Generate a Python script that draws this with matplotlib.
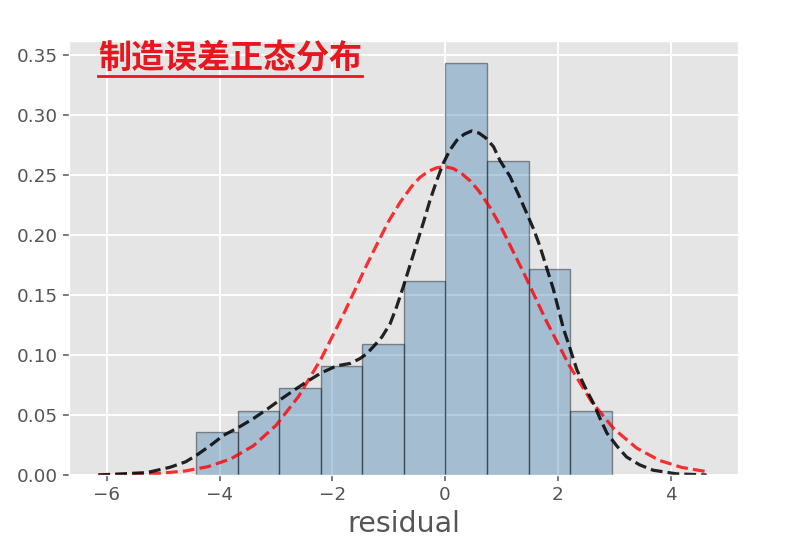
import numpy as np
import matplotlib
matplotlib.use('Agg')
import matplotlib.pyplot as plt

# Histogram of residuals (density)
bin_edges = [-4.415, -3.678, -2.941, -2.204, -1.467, -0.730, 0.007, 0.744, 1.481, 2.218, 2.955]
bin_density = [0.0356, 0.0536, 0.0722, 0.0905, 0.109, 0.162, 0.3436, 0.262, 0.172, 0.0536]

# Kernel density estimate (black dashed)
kde_x = [-6.15, -5.8, -5.29, -4.88, -4.6, -4.4, -4.15, -3.93, -3.65, -3.4, -3.15, -2.93,
         -2.7, -2.45, -2.2, -1.92, -1.68, -1.51, -1.39, -1.27, -1.12, -0.975, -0.86, -0.74,
         -0.62, -0.5, -0.38, -0.266, -0.15, -0.03, 0.09, 0.21, 0.34, 0.47, 0.6, 0.72,
         0.86, 0.975, 1.15, 1.3, 1.45, 1.57, 1.68, 1.8, 1.92, 2.1, 2.22, 2.34, 2.48,
         2.63, 2.75, 2.87, 3.05, 3.22, 3.45, 3.69, 4.1, 4.64]
kde_y = [0.0, 0.0008, 0.002, 0.0064, 0.011, 0.0167, 0.025, 0.033, 0.040, 0.047, 0.055, 0.0625,
         0.070, 0.0778, 0.085, 0.091, 0.093, 0.097, 0.101, 0.107, 0.115, 0.126, 0.140, 0.157,
         0.175, 0.193, 0.211, 0.229, 0.245, 0.260, 0.271, 0.279, 0.284, 0.2867, 0.285, 0.281,
         0.2736, 0.262, 0.249, 0.234, 0.218, 0.205, 0.191, 0.173, 0.155, 0.122, 0.105, 0.0875, 0.0735,
         0.060, 0.047, 0.035, 0.024, 0.015, 0.0085, 0.004, 0.001, 0.0]

# Fitted normal curve (red dashed)
norm_x = [-6.15, -5.6, -5.1, -4.6, -4.2, -3.8, -3.4, -3.0, -2.6, -2.2, -1.8, -1.4, -1.2, -1.0,
          -0.8, -0.6, -0.45, -0.3, -0.15, 0.0, 0.15, 0.3, 0.45, 0.6, 0.8, 1.0, 1.2, 1.4, 1.8,
          2.2, 2.6, 3.0, 3.4, 3.8, 4.2, 4.64]
norm_y = [0.0001, 0.0004, 0.0012, 0.0034, 0.007, 0.0134, 0.0243, 0.0412, 0.0653, 0.0967, 0.134,
          0.174, 0.193, 0.2115, 0.227, 0.240, 0.2478, 0.253, 0.256, 0.257, 0.2553, 0.251, 0.245,
          0.2367, 0.2228, 0.206, 0.187, 0.168, 0.128, 0.0916, 0.061, 0.0382, 0.0224, 0.0122,
          0.0063, 0.0028]

title = '制造误差正态分布'
xlabel = 'residual'

plt.style.use('ggplot')

fig = plt.figure(figsize=(7.9, 5.56), dpi=100)
ax = fig.add_axes([0.0873, 0.1457, 0.8468, 0.7806])

widths = np.diff(bin_edges)
ax.bar(bin_edges[:-1], bin_density, width=widths, align='edge',
       color='steelblue', edgecolor='black', alpha=0.4, linewidth=1.0)

ax.plot(norm_x, norm_y, color='red', linestyle='--', linewidth=2.3, alpha=0.8)
ax.plot(kde_x, kde_y, color='black', linestyle='--', linewidth=2.3, alpha=0.85)

ax.set_xlim(-6.67, 5.195)
ax.set_ylim(0, 0.3617)
ax.set_xticks([-6, -4, -2, 0, 2, 4])
ax.set_yticks(np.arange(0, 0.351, 0.05))
ax.tick_params(labelsize=13.2, length=4.5, width=1.1, colors='#555555')
ax.grid(True, color='white', linewidth=1.3)
ax.set_axisbelow(True)
ax.set_xlabel(xlabel, fontsize=20.5, color='#555555', labelpad=4)

t = ax.text(0.0433, 0.9355, title, transform=ax.transAxes, fontsize=23.8,
            fontweight='bold', color='#E8161E', va='baseline', ha='left',
            family=['Noto Sans CJK SC', 'DejaVu Sans'])

# underline under the title
fig.canvas.draw()
bb = t.get_window_extent().transformed(ax.transAxes.inverted())
ax.plot([bb.x0, bb.x1], [0.919, 0.919], transform=ax.transAxes,
        color='#E8161E', linewidth=2, clip_on=False)

fig.savefig('out.png', dpi=100)
